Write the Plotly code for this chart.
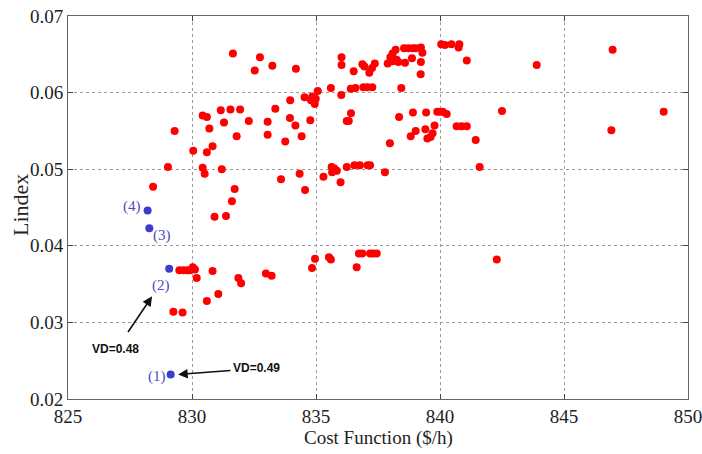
import plotly.graph_objects as go

# Red points: cost function ($/h) and Lindex
cost_red = [
    831.65, 832.74, 832.53, 833.24, 834.19, 836.03, 836.03, 836.52, 836.87, 836.95,
    837.15, 837.26, 837.37, 837.89, 838.00, 838.09, 838.21, 838.25, 838.32, 838.09,
    838.59, 838.55, 838.72, 838.90, 839.02, 839.23, 838.87, 839.29, 839.23, 839.22,
    840.05, 840.20, 840.46, 840.78, 840.75, 841.08, 843.90, 846.96,
    835.60, 836.02, 836.40, 836.59, 836.91, 837.07, 837.27, 838.44, 835.07, 834.85,
    834.99, 834.95, 834.80, 834.54, 833.96,
    829.30, 830.05, 830.43, 830.60, 830.70, 830.60, 830.83, 831.16, 831.29, 831.55,
    831.94, 831.80, 832.29, 833.36, 833.05, 833.05, 833.76, 833.95, 834.17, 834.42,
    834.77, 836.41, 836.24, 836.32, 837.98, 838.35, 838.91, 839.44, 839.02, 838.82,
    839.41, 839.49, 839.62, 839.70, 839.78, 839.89, 840.00, 840.11, 840.27, 840.67,
    840.87, 841.08, 841.44, 841.60, 842.50, 846.91, 849.02,
    829.03, 828.43, 830.43, 830.51, 831.20, 831.72, 831.61, 830.91, 831.37, 835.63,
    835.74, 835.84, 835.65, 835.30, 835.99, 836.24, 836.55, 836.77, 837.08, 837.18,
    837.78, 834.34, 833.59, 834.56,
    834.96, 834.84, 835.52, 835.60, 836.64, 836.73, 836.87, 837.18, 837.31, 837.45,
    831.87, 831.98, 832.98, 833.21, 842.29, 829.49, 829.65, 829.81, 829.92, 830.03,
    830.12, 830.19, 830.83, 830.60, 831.06, 829.25, 829.62,
]
lindex_red = [
    0.0651, 0.0646, 0.0629, 0.0635, 0.0631, 0.0646, 0.0636, 0.0628, 0.0637, 0.0634,
    0.0626, 0.0632, 0.0638, 0.0638, 0.0646, 0.0651, 0.0656, 0.0643, 0.0640, 0.0641,
    0.0639, 0.0658, 0.0658, 0.0658, 0.0658, 0.0659, 0.0645, 0.0652, 0.0640, 0.0624,
    0.0663, 0.0662, 0.0663, 0.0663, 0.0659, 0.0642, 0.0636, 0.0656,
    0.0606, 0.0597, 0.0605, 0.0606, 0.0607, 0.0607, 0.0607, 0.0606, 0.0602, 0.0595,
    0.0592, 0.0585, 0.0590, 0.0594, 0.0590,
    0.0550, 0.0524, 0.0570, 0.0568, 0.0553, 0.0522, 0.0530, 0.0577, 0.0561, 0.0578,
    0.0578, 0.0543, 0.0563, 0.0579, 0.0562, 0.0545, 0.0536, 0.0567, 0.0557, 0.0543,
    0.0564, 0.0573, 0.0563, 0.0563, 0.0534, 0.0568, 0.0574, 0.0574, 0.0550, 0.0543,
    0.0552, 0.0540, 0.0542, 0.0547, 0.0557, 0.0575, 0.0575, 0.0575, 0.0572, 0.0556,
    0.0556, 0.0556, 0.0538, 0.0503, 0.0576, 0.0551, 0.0575,
    0.0503, 0.0477, 0.0502, 0.0494, 0.0500, 0.0474, 0.0458, 0.0438, 0.0439, 0.0503,
    0.0501, 0.0498, 0.0496, 0.0490, 0.0483, 0.0503, 0.0505, 0.0505, 0.0505, 0.0505,
    0.0496, 0.0494, 0.0487, 0.0473,
    0.0383, 0.0371, 0.0385, 0.0382, 0.0372, 0.0390, 0.0390, 0.0390, 0.0390, 0.0390,
    0.0358, 0.0351, 0.0364, 0.0361, 0.0382, 0.0368, 0.0368, 0.0368, 0.0368, 0.0372,
    0.0369, 0.0358, 0.0367, 0.0328, 0.0337, 0.0314, 0.0313,
]

# Blue (selected) points (1)-(4)
cost_blue = [829.14, 829.08, 828.28, 828.21]
lindex_blue = [0.0232, 0.0370, 0.0423, 0.0446]
blue_labels = ["(1)", "(2)", "(3)", "(4)"]

x_ticks = [825, 830, 835, 840, 845, 850]
y_ticks = [0.02, 0.03, 0.04, 0.05, 0.06, 0.07]

fig = go.Figure()
fig.add_trace(go.Scatter(x=cost_red, y=lindex_red, mode="markers",
                         marker=dict(color="#ff0000", size=8, line=dict(width=0)),
                         showlegend=False))
fig.add_trace(go.Scatter(x=cost_blue, y=lindex_blue, mode="markers",
                         marker=dict(color="#3b3bcc", size=8, line=dict(width=0)),
                         showlegend=False))

serif = "Liberation Serif, Times New Roman, serif"
blue_txt = "#4a4ac8"

# labels for blue points
label_pos = [(828.59, 0.02294), (828.75, 0.03484), (828.79, 0.04137), (827.58, 0.04516)]
for (lx, ly), t in zip(label_pos, blue_labels):
    fig.add_annotation(x=lx, y=ly, text=t, showarrow=False,
                       font=dict(family=serif, size=15, color=blue_txt))

# arrows
fig.add_annotation(x=828.39, y=0.0334, ax=827.38, ay=0.02856, axref="x", ayref="y",
                   text="", showarrow=True, arrowhead=2, arrowsize=1.2,
                   arrowwidth=1.6, arrowcolor="#111")
fig.add_annotation(x=829.44, y=0.0232, ax=831.61, ay=0.02373, axref="x", ayref="y",
                   text="", showarrow=True, arrowhead=2, arrowsize=1.2,
                   arrowwidth=1.6, arrowcolor="#111")
fig.add_annotation(x=826.90, y=0.02647, text="<b>VD=0.48</b>", showarrow=False,
                   font=dict(family="Liberation Sans, Arial, sans-serif", size=12, color="#111"))
fig.add_annotation(x=832.62, y=0.02399, text="<b>VD=0.49</b>", showarrow=False,
                   font=dict(family="Liberation Sans, Arial, sans-serif", size=12, color="#111"))

# axis titles
fig.add_annotation(xref="paper", yref="paper", x=0.5, y=-0.102, text="Cost Function ($/h)",
                   showarrow=False, font=dict(family=serif, size=19, color="#222"),
                   xanchor="center", yanchor="middle")
fig.add_annotation(xref="paper", yref="paper", x=-0.0774, y=0.5065, text="Lindex",
                   textangle=-90, showarrow=False,
                   font=dict(family=serif, size=22, color="#222"),
                   xanchor="center", yanchor="middle")

axis_common = dict(showgrid=True, gridcolor="#9a9a9a", griddash="dot", gridwidth=1,
                   showline=True, linecolor="#666", linewidth=1, mirror="allticks",
                   ticks="inside", ticklen=5, tickcolor="#444", zeroline=False,
                   automargin=False, ticklabeloverflow="allow",
                   tickfont=dict(family=serif, size=19, color="#222"))

fig.update_xaxes(range=[825, 850], tickvals=x_ticks, ticktext=[str(v) for v in x_ticks],
                 **axis_common)
fig.update_yaxes(range=[0.02, 0.07], tickvals=y_ticks, ticktext=[f"{v:.2f}" for v in y_ticks],
                 **axis_common)

fig.update_layout(width=702, height=454, autosize=False,
                  margin=dict(l=68, r=14, t=16, b=55),
                  plot_bgcolor="white", paper_bgcolor="white")

fig.write_html("out.html", config={"displayModeBar": False},
               post_script="document.body.style.margin='0';document.body.style.padding='0';")
